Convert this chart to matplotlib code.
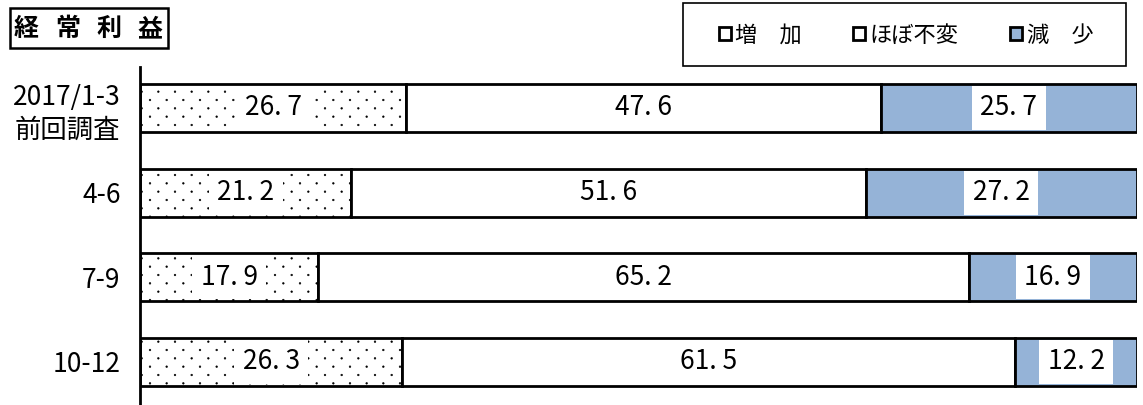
"""
    经常利益 stacked horizontal bar chart
"""
import numpy as np
import matplotlib
matplotlib.use("Agg")
import matplotlib.pyplot as plt
import matplotlib.hatch as mhatch
from matplotlib.patches import Patch, Rectangle

plt.rcParams['font.family'] = ['Noto Sans CJK JP', 'DejaVu Sans']
plt.rcParams['hatch.color'] = '#000080'
plt.rcParams['hatch.linewidth'] = 0.4


# '.' hatch with rows at half spacing (staggered dot lattice like the original)
class SparseDots(mhatch.Circles):
    size = 0.05
    filled = True

    def __init__(self, hatch, density):
        self.num_rows = hatch.count('.') * density
        super().__init__(hatch, density)
        n = self.num_rows
        if n:
            self.num_shapes = (n + 1) ** 2 + n ** 2
            self.num_vertices = self.num_shapes * len(self.shape_vertices)

    def set_vertices_and_codes(self, vertices, codes):
        n = self.num_rows
        offset = 1.0 / n
        sv = self.shape_vertices * offset * self.size
        vparts, cparts = [], []
        for row in range(2 * n + 1):
            if row % 2 == 0:
                cols = np.linspace(0, 1, n + 1)
            else:
                cols = np.linspace(offset / 2, 1 - offset / 2, n)
            for c in cols:
                vparts.append(sv + [c, row * offset / 2])
                cparts.append(self.shape_codes)
        np.concatenate(vparts, out=vertices)
        np.concatenate(cparts, out=codes)


mhatch._hatch_types = [SparseDots if t is mhatch.SmallFilledCircles else t
                       for t in mhatch._hatch_types]

# data
periods = ['2017/1-3\n前回調査', '4-6', '7-9', '10-12']
increase = [26.7, 21.2, 17.9, 26.3]
unchanged = [47.6, 51.6, 65.2, 61.5]
decrease = [25.7, 27.2, 16.9, 12.2]
series_names = ['増　加', 'ほぼ不変', '減　少']
title_chars = ['経', '常', '利', '益']
blue = '#95B3D7'

fig = plt.figure(figsize=(11.43, 4.05), dpi=100)
W, H = 1143, 405
ax = fig.add_axes([140 / W, 0, (1137 - 140) / W, (405 - 67) / H])

y = np.arange(len(periods))
h = 0.567
lw = 2.0
ax.barh(y, increase, height=h, color='white', edgecolor='black', linewidth=lw, hatch='.')
ax.barh(y, unchanged, left=increase, height=h, color='white', edgecolor='black', linewidth=lw)
left3 = np.array(increase) + np.array(unchanged)
ax.barh(y, decrease, left=left3, height=h, color=blue, edgecolor='black', linewidth=lw)

fs = 19
def fmt(v):
    return f'{v:.1f}'.replace('.', '. ')

for i in range(len(periods)):
    ax.text(increase[i] / 2, y[i], fmt(increase[i]), ha='center', va='center', fontsize=fs,
            bbox=dict(facecolor='white', edgecolor='none', pad=6))
    ax.text(increase[i] + unchanged[i] / 2, y[i], fmt(unchanged[i]), ha='center', va='center', fontsize=fs)
    ax.text(left3[i] + decrease[i] / 2, y[i], fmt(decrease[i]), ha='center', va='center', fontsize=fs,
            bbox=dict(facecolor='white', edgecolor='none', pad=6))

ax.set_xlim(0, 100)
ax.set_ylim(3.508, -0.484)
ax.set_yticks(y)
ax.set_yticklabels(periods, fontsize=fs, linespacing=1.3)
ax.tick_params(axis='y', length=0, pad=14)
ax.set_xticks([])
for s in ['top', 'right', 'bottom']:
    ax.spines[s].set_visible(False)
ax.spines['left'].set_linewidth(2)

# title box
fig.patches.append(Rectangle((10 / W, 1 - 48 / H), 158 / W, 40 / H, transform=fig.transFigure,
                             facecolor='white', edgecolor='black', linewidth=1.8))
for k, ch in enumerate(title_chars):
    fig.text((26 + 41.5 * k) / W, 1 - 29 / H, ch, fontsize=18, fontweight='bold', ha='center', va='center')

# legend box
fig.patches.append(Rectangle((683 / W, 1 - 66 / H), (1126 - 683) / W, 63 / H, transform=fig.transFigure,
                             facecolor='white', edgecolor='black', linewidth=1.2))
handles = [Patch(facecolor='white', edgecolor='black', linewidth=2),
           Patch(facecolor='white', edgecolor='black', linewidth=2),
           Patch(facecolor=blue, edgecolor='black', linewidth=2)]
fig.legend(handles, series_names, loc='center', bbox_to_anchor=(906 / W, 1 - 35 / H), ncol=3,
           frameon=False, fontsize=16, handlelength=0.55, handleheight=0.55, handletextpad=0.2,
           columnspacing=2.3)

fig.savefig('out.png', dpi=100)
